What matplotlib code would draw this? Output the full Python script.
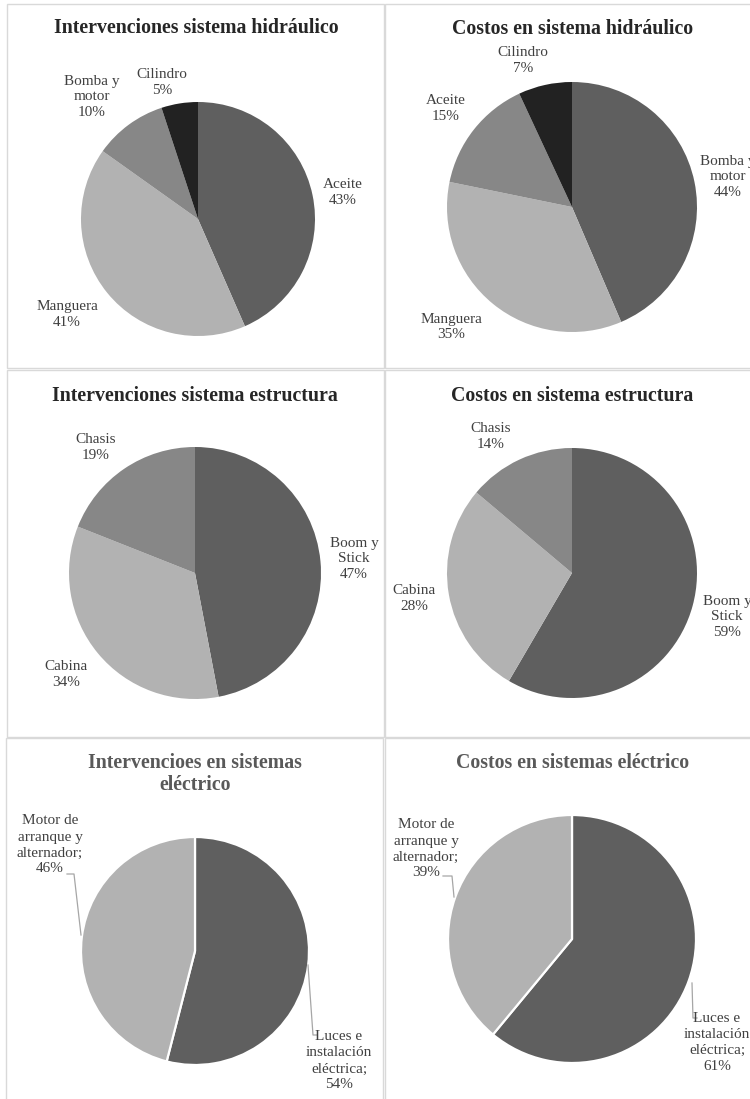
import matplotlib
matplotlib.use("Agg")
import matplotlib.pyplot as plt
from matplotlib.patches import Rectangle
from matplotlib.lines import Line2D

# ---------------- data ----------------
titles = [
    "Intervenciones sistema hidráulico",
    "Costos en sistema hidráulico",
    "Intervenciones sistema estructura",
    "Costos en sistema estructura",
    "Intervencioes en sistemas\neléctrico",
    "Costos en sistemas eléctrico",
]

hid_int_labels = ["Aceite", "Manguera", "Bomba y\nmotor", "Cilindro"]
hid_int_values = [43, 41, 10, 5]

hid_cost_labels = ["Bomba y\nmotor", "Manguera", "Aceite", "Cilindro"]
hid_cost_values = [44, 35, 15, 7]

est_int_labels = ["Boom y\nStick", "Cabina", "Chasis"]
est_int_values = [47, 34, 19]

est_cost_labels = ["Boom y\nStick", "Cabina", "Chasis"]
est_cost_values = [59, 28, 14]

ele_int_labels = ["Luces e\ninstalación\neléctrica;", "Motor de\narranque y\nalternador;"]
ele_int_values = [54, 46]

ele_cost_labels = ["Luces e\ninstalación\neléctrica;", "Motor de\narranque y\nalternador;"]
ele_cost_values = [61, 39]

# ---------------- layout / style ----------------
W, H = 750, 1099
DARK, LIGHT, MID, BLACK = "#5f5f5f", "#b2b2b2", "#878787", "#222222"
SERIF = ["Liberation Serif", "DejaVu Serif"]
LABEL_COLOR = "#404040"

fig = plt.figure(figsize=(W / 100, H / 100), dpi=100)
fig.patch.set_facecolor("white")


def fx(x):
    return x / W


def fy(y):
    return 1 - y / H


# panel borders (pixel coords: x0, y0, x1, y1)
borders = [(7, 4, 384, 368), (385, 4, 760, 368),
           (7, 370, 384, 737), (385, 370, 760, 737),
           (6, 738, 383, 1110), (385, 738, 760, 1110)]
for x0, y0, x1, y1 in borders:
    fig.add_artist(Rectangle((fx(x0), fy(y1)), fx(x1 - x0), (y1 - y0) / H,
                             transform=fig.transFigure, fill=False,
                             edgecolor="#d9d9d9", linewidth=1.0))

panels = [
    dict(values=hid_int_values, labels=hid_int_labels, colors=[DARK, LIGHT, MID, BLACK],
         center=(198, 219), r=117, title_pos=(196, 28), tcolor="#262626",
         lpos=[(343, 192), (67, 315), (92, 97), (162, 83)], edge=None),
    dict(values=hid_cost_values, labels=hid_cost_labels, colors=[DARK, LIGHT, MID, BLACK],
         center=(572, 207), r=125, title_pos=(573, 29), tcolor="#262626",
         lpos=[(728, 177), (451, 327), (446, 109), (523, 60)], edge=None),
    dict(values=est_int_values, labels=est_int_labels, colors=[DARK, LIGHT, MID],
         center=(195, 573), r=126, title_pos=(195, 396), tcolor="#262626",
         lpos=[(354, 559), (66, 674), (96, 447)], edge=None),
    dict(values=est_cost_values, labels=est_cost_labels, colors=[DARK, LIGHT, MID],
         center=(572, 573), r=125, title_pos=(572, 396), tcolor="#262626",
         lpos=[(727, 617), (414, 598), (491, 437)], edge=None),
    dict(values=ele_int_values, labels=ele_int_labels, colors=[DARK, LIGHT],
         center=(195, 951), r=114, title_pos=(195, 774), tcolor="#595959",
         lpos=[(339, 1061), (50, 845)], edge="white"),
    dict(values=ele_cost_values, labels=ele_cost_labels, colors=[DARK, LIGHT],
         center=(572, 939), r=124, title_pos=(573, 763), tcolor="#595959",
         lpos=[(717, 1042), (426, 849)], edge="white"),
]

for i, p in enumerate(panels):
    cx, cy = p["center"]
    r = p["r"]
    ax = fig.add_axes([fx(cx - r), fy(cy + r), 2 * r / W, 2 * r / H])
    wp = dict(linewidth=0)
    if p["edge"]:
        wp = dict(edgecolor=p["edge"], linewidth=1.6)
    ax.pie(p["values"], colors=p["colors"], startangle=90, counterclock=False,
           radius=1, wedgeprops=wp)
    ax.set_xlim(-1, 1)
    ax.set_ylim(-1, 1)
    ax.axis("off")

    tx, ty = p["title_pos"]
    fig.text(fx(tx), fy(ty), titles[i], ha="center", va="center",
             fontsize=14.3, fontweight="bold", family=SERIF, color=p["tcolor"],
             linespacing=1.15, multialignment="center")

    for lab, val, (lx, ly) in zip(p["labels"], p["values"], p["lpos"]):
        fig.text(fx(lx), fy(ly), f"{lab}\n{val}%", ha="center", va="center",
                 fontsize=11, family=SERIF, color=LABEL_COLOR,
                 linespacing=1.3, multialignment="center")

# leader lines for electric panels (pixel coords)
leaders = [
    [(67, 874), (74, 874), (81, 935)],
    [(308, 965), (313, 1035), (317, 1035)],
    [(443, 876), (452, 876), (454, 897)],
    [(692, 983), (693, 1018), (697, 1018)],
]
for pts in leaders:
    fig.add_artist(Line2D([fx(x) for x, _ in pts], [fy(y) for _, y in pts],
                          transform=fig.transFigure, color="#a6a6a6", linewidth=0.9))

fig.savefig("out.png", dpi=100, facecolor="white")
